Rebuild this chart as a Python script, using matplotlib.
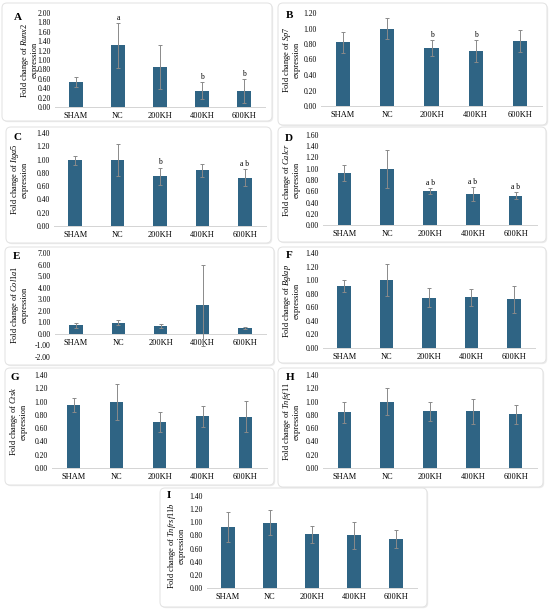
import numpy as np
import matplotlib
matplotlib.use("Agg")
import matplotlib.pyplot as plt
from matplotlib.patches import FancyBboxPatch

plt.rcParams['font.family'] = ['Liberation Serif', 'DejaVu Serif']
plt.rcParams['mathtext.fontset'] = 'custom'
plt.rcParams['mathtext.rm'] = 'Liberation Serif'
plt.rcParams['mathtext.it'] = 'Liberation Serif:italic'

W, H = 550, 611
BAR = '#2f6484'
ERR = '#8a8a8a'
AXIS = '#d4d4d4'

groups = ['SHAM', 'NC', '200KH', '400KH', '600KH']

# panel data (mean fold change, SD)
letters = ['A', 'B', 'C', 'D', 'E', 'F', 'G', 'H', 'I']
genes = ['Runx2', 'Sp7', 'Itga5', 'Calcr', 'Col1a1', 'Bglap', 'Ctsk', 'Tnfsf11', 'Tnfrsf11b']

runx2_mean = [0.53, 1.31, 0.85, 0.35, 0.34]
runx2_sd = [0.11, 0.48, 0.46, 0.18, 0.26]
sp7_mean = [0.82, 1.00, 0.75, 0.71, 0.84]
sp7_sd = [0.13, 0.14, 0.10, 0.14, 0.14]
itga5_mean = [0.99, 1.00, 0.75, 0.84, 0.73]
itga5_sd = [0.07, 0.24, 0.13, 0.10, 0.13]
calcr_mean = [0.93, 1.00, 0.61, 0.55, 0.52]
calcr_sd = [0.14, 0.34, 0.05, 0.13, 0.06]
col1a1_mean = [0.73, 0.98, 0.70, 2.49, 0.50]
col1a1_sd = [0.24, 0.25, 0.18, 3.50, 0.11]
bglap_mean = [0.91, 1.00, 0.74, 0.745, 0.72]
bglap_sd = [0.09, 0.24, 0.14, 0.13, 0.20]
ctsk_mean = [0.95, 1.00, 0.69, 0.78, 0.775]
ctsk_sd = [0.10, 0.27, 0.15, 0.16, 0.23]
tnfsf11_mean = [0.84, 1.00, 0.855, 0.855, 0.81]
tnfsf11_sd = [0.16, 0.20, 0.145, 0.19, 0.145]
tnfrsf11b_mean = [0.93, 0.99, 0.815, 0.80, 0.745]
tnfrsf11b_sd = [0.23, 0.19, 0.125, 0.21, 0.135]

runx2_sig = ['', 'a', '', 'b', 'b']
sp7_sig = ['', '', 'b', 'b', '']
itga5_sig = ['', '', 'b', '', 'a b']
calcr_sig = ['', '', 'a b', 'a b', 'a b']
none_sig = [''] * 5

means = [runx2_mean, sp7_mean, itga5_mean, calcr_mean, col1a1_mean,
         bglap_mean, ctsk_mean, tnfsf11_mean, tnfrsf11b_mean]
sds = [runx2_sd, sp7_sd, itga5_sd, calcr_sd, col1a1_sd,
       bglap_sd, ctsk_sd, tnfsf11_sd, tnfrsf11b_sd]
sigs = [runx2_sig, sp7_sig, itga5_sig, calcr_sig, none_sig,
        none_sig, none_sig, none_sig, none_sig]
y_ranges = [(0, 2.0, 0.2), (0, 1.2, 0.2), (0, 1.4, 0.2), (0, 1.6, 0.2), (-2, 7, 1),
            (0, 1.4, 0.2), (0, 1.4, 0.2), (0, 1.4, 0.2), (0, 1.4, 0.2)]

# layout in pixels: box (x0, y0, x1, y1), plot (left, right, top, bottom),
# ylabel x, panel letter (x, y)
layout = [
    dict(box=(2, 3, 272, 121), plot=(55, 265, 13, 107), ylab=29, let=(18, 17)),
    dict(box=(278, 3, 547, 125), plot=(321, 542, 13, 106), ylab=291, let=(289, 15)),
    dict(box=(6, 127, 271, 243), plot=(54, 266, 133, 226), ylab=19, let=(18, 137)),
    dict(box=(278, 127, 546, 242), plot=(323, 537, 135, 225), ylab=291, let=(289, 138)),
    dict(box=(5, 247, 274, 365), plot=(55, 266, 253, 357), ylab=19, let=(17, 256)),
    dict(box=(278, 247, 546, 363), plot=(323, 535, 253, 348), ylab=291, let=(289, 255)),
    dict(box=(5, 368, 274, 485), plot=(52, 267, 375, 468), ylab=18, let=(15, 378)),
    dict(box=(278, 368, 543, 487), plot=(323, 537, 375, 468), ylab=291, let=(290, 378)),
    dict(box=(160, 488, 427, 607), plot=(207, 417, 496, 588), ylab=176, let=(169, 496)),
]

fig = plt.figure(figsize=(W / 100, H / 100), dpi=100)
fig.patch.set_facecolor('white')


def px_box(x0, y0, x1, y1):
    return x0 / 100, (H - y1) / 100, (x1 - x0) / 100, (y1 - y0) / 100


x = np.arange(len(groups))

for i in range(9):
    lay = layout[i]
    bx, by, bw, bh = px_box(*lay['box'])
    shadow = FancyBboxPatch((bx + 0.012, by - 0.012), bw, bh,
                            boxstyle="round,pad=0,rounding_size=0.05",
                            transform=fig.dpi_scale_trans, facecolor='#ececec',
                            edgecolor='none', zorder=-2)
    frame = FancyBboxPatch((bx, by), bw, bh,
                           boxstyle="round,pad=0,rounding_size=0.05",
                           transform=fig.dpi_scale_trans, facecolor='white',
                           edgecolor='#e2e2e2', linewidth=0.7, zorder=-1)
    fig.patches.extend([shadow, frame])

    l, r, t, b = lay['plot']
    ax = fig.add_axes([l / W, 1 - b / H, (r - l) / W, (b - t) / H])
    ax.set_facecolor('none')
    ymin, ymax, step = y_ranges[i]

    ax.bar(x, means[i], width=0.32, color=BAR, zorder=2)
    ax.errorbar(x, means[i], yerr=sds[i], fmt='none', ecolor=ERR,
                elinewidth=0.7, capsize=1.6, capthick=0.7, zorder=3)
    for xi, m, s, lab in zip(x, means[i], sds[i], sigs[i]):
        if lab:
            ax.annotate(lab, (xi, m + s), xytext=(0, 0.8), textcoords='offset points',
                        ha='center', va='bottom', fontsize=5.5)

    ax.set_xlim(-0.5, len(groups) - 0.5)
    ax.set_ylim(ymin, ymax)
    ax.set_yticks(np.arange(ymin, ymax + step / 2, step))
    ax.yaxis.set_major_formatter(matplotlib.ticker.FormatStrFormatter('%.2f'))
    ax.set_xticks(x)
    ax.set_xticklabels(groups)
    for side in ['top', 'right', 'left']:
        ax.spines[side].set_visible(False)
    ax.spines['bottom'].set_position(('data', 0))
    ax.spines['bottom'].set_color(AXIS)
    ax.spines['bottom'].set_linewidth(0.7)
    ax.tick_params(axis='y', length=0, pad=3, labelsize=5.5)
    ax.tick_params(axis='x', length=0, pad=3.5, labelsize=6)

    ylab_y = (t + b) / 2 + (4 if i == 8 else 0)
    fig.text(lay['ylab'] / W, 1 - ylab_y / H,
             'Fold change of $\\mathit{' + genes[i] + '}$\nexpression',
             rotation=90, ha='center', va='center', fontsize=6, linespacing=1.0)
    fig.text(lay['let'][0] / W, 1 - lay['let'][1] / H, letters[i],
             ha='center', va='center', fontsize=8, fontweight='bold')

fig.savefig('out.png', dpi=100, facecolor='white')
